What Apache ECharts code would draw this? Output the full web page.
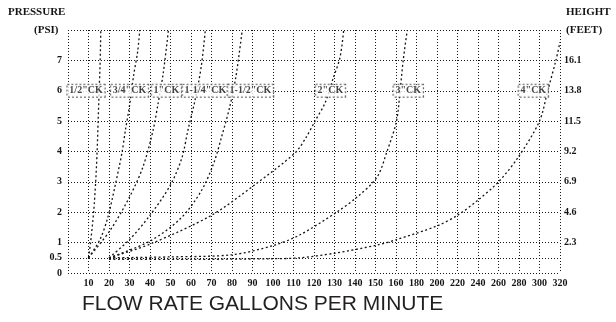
<!DOCTYPE html>
<html>
<head>
<meta charset="utf-8">
<script src="https://cdn.jsdelivr.net/npm/echarts@6/dist/echarts.min.js"></script>
<style>
  html, body { margin: 0; padding: 0; background: #fff; }
  #chart { width: 616px; height: 322px; }
</style>
</head>
<body>
<div id="chart"></div>
<script>
// x axis is not linear: 10 gpm steps up to 160, then 20 gpm steps
const flowTicks = ['', '10', '20', '30', '40', '50', '60', '70', '80', '90', '100', '110', '120',
  '130', '140', '150', '160', '180', '200', '220', '240', '260', '280', '300', '320']
const psiTicks = [0, 0.5, 1, 2, 3, 4, 5, 6, 7]
const heightTicks = ['', '2.3', '4.6', '6.9', '9.2', '11.5', '13.8', '16.1', '']

// [gpm, psi]
const ck12 = [[10, 0.5], [11, 1], [12.5, 2], [13.5, 3], [14.2, 4], [14.7, 5], [15.2, 6], [15.7, 7], [16, 8]]
const ck34 = [[10, 0.5], [15.6, 1.1], [19.5, 1.85], [22.9, 2.85], [26.3, 3.95], [28, 4.7], [30, 5.5], [32, 6.5], [34, 7.3], [35, 8]]
const ck1 = [[10, 0.5], [20.5, 1.4], [30, 2.5], [36.6, 3.5], [41.5, 4.7], [44, 5.6], [46.5, 6.6], [49, 8]]
const ck114 = [[20, 0.5], [30, 1.1], [40, 1.9], [50, 2.9], [55.6, 3.8], [58.5, 4.7], [62, 5.7], [65, 6.8], [67, 8]]
const ck112 = [[20, 0.5], [40, 1.05], [55, 1.8], [65, 2.7], [71, 3.6], [75, 4.5], [79, 5.5], [82, 6.5], [85, 8]]
const ck2 = [[20, 0.5], [40, 0.95], [70, 1.9], [91, 2.9], [110.7, 3.95], [116, 4.45], [120.5, 5], [125.4, 5.6], [129.3, 6.4], [132.7, 7.1], [134.5, 8]]
const ck3 = [[20, 0.5], [50, 0.53], [80, 0.6], [100, 0.9], [113, 1.25], [131, 2], [141, 2.5], [150.7, 3.15], [155.6, 4], [160.5, 5], [164, 6], [167, 7], [171, 8]]
const ck4 = [[20, 0.45], [60, 0.45], [100, 0.47], [113, 0.5], [130, 0.65], [150.7, 0.92], [160.5, 1.1], [200, 1.55], [220, 1.9], [240, 2.4], [260, 3], [279, 3.8], [300, 5], [308, 6], [316, 7], [320, 7.6]]

const curveList = [ck12, ck34, ck1, ck114, ck112, ck2, ck3, ck4]

const ckNames = ['1/2"CK', '3/4"CK', '1"CK', '1-1/4"CK', '1-1/2"CK', '2"CK', '3"CK', '4"CK']
const ckLabelFlow = [8.8, 30, 48, 67, 89, 128, 172, 294]
const ckLabelPsi = [6, 6, 6, 6, 6, 6, 6, 6]

function flowToPos(gpm) {
  if (gpm <= 160) return gpm / 10
  return 16 + (gpm - 160) / 20
}

const ink = '#151515'
const dots = [1, 2]
const serif = 'Liberation Serif'

const curveSeries = curveList.map((pts, i) => ({
  name: ckNames[i],
  type: 'line',
  smooth: 0.3,
  showSymbol: false,
  silent: true,
  data: pts.map((p) => [flowToPos(p[0]), p[1]]),
  lineStyle: { color: ink, width: 1.3, type: [2, 2.5] },
  markLine: i === 0 ? {
    silent: true,
    symbol: 'none',
    label: { show: false },
    lineStyle: { color: ink, width: 1, type: dots },
    data: [{ yAxis: 0.5 }],
  } : undefined,
}))

const labelSeries = {
  type: 'scatter',
  symbolSize: 1,
  itemStyle: { color: 'rgba(0,0,0,0)' },
  z: 10,
  data: ckNames.map((n, i) => ({ name: n, value: [flowToPos(ckLabelFlow[i]), ckLabelPsi[i]] })),
  label: {
    show: true,
    position: 'inside',
    formatter: (p) => p.name,
    color: ink,
    fontFamily: serif,
    fontWeight: 'bold',
    fontSize: 10,
    backgroundColor: '#fff',
    borderColor: '#444',
    borderWidth: 1,
    borderType: 'dotted',
    padding: [1, 2],
  },
}

const gridLine = { show: true, lineStyle: { color: ink, width: 1, type: dots } }
const tickText = { color: ink, fontFamily: serif, fontWeight: 'bold', fontSize: 10 }

const chart = echarts.init(document.getElementById('chart'))
chart.setOption({
  animation: false,
  grid: { left: 68, right: 56, top: 30, bottom: 49 },
  xAxis: {
    type: 'value',
    min: 0,
    max: 24,
    interval: 1,
    axisLine: { show: false },
    axisTick: { show: false },
    splitLine: gridLine,
    axisLabel: {
      ...tickText,
      margin: 5,
      showMaxLabel: true,
      formatter: (v) => flowTicks[v] || '',
    },
  },
  yAxis: [
    {
      type: 'value',
      min: 0,
      max: 8,
      interval: 1,
      axisLine: { show: false },
      axisTick: { show: false },
      splitLine: gridLine,
      axisLabel: {
        ...tickText,
        margin: 6,
        customValues: psiTicks,
        formatter: (v) => String(v),
      },
    },
    {
      type: 'value',
      position: 'right',
      min: 0,
      max: 8,
      interval: 1,
      axisLine: { show: false },
      axisTick: { show: false },
      splitLine: { show: false },
      axisLabel: {
        ...tickText,
        margin: 4,
        formatter: (v) => heightTicks[v] || '',
      },
    },
  ],
  graphic: [
    { type: 'text', left: 8, top: 7, style: { text: 'PRESSURE', fill: ink, font: 'bold 11px "Liberation Serif"' } },
    { type: 'text', left: 34, top: 25, style: { text: '(PSI)', fill: ink, font: 'bold 11px "Liberation Serif"' } },
    { type: 'text', left: 566, top: 7, style: { text: 'HEIGHT', fill: ink, font: 'bold 11px "Liberation Serif"' } },
    { type: 'text', left: 566, top: 25, style: { text: '(FEET)', fill: ink, font: 'bold 11px "Liberation Serif"' } },
    { type: 'text', left: 82, top: 294, style: { text: 'FLOW RATE GALLONS PER MINUTE', fill: '#231f20', font: '21px "Liberation Sans"' } },
  ],
  series: [...curveSeries, labelSeries],
})
</script>
</body>
</html>
